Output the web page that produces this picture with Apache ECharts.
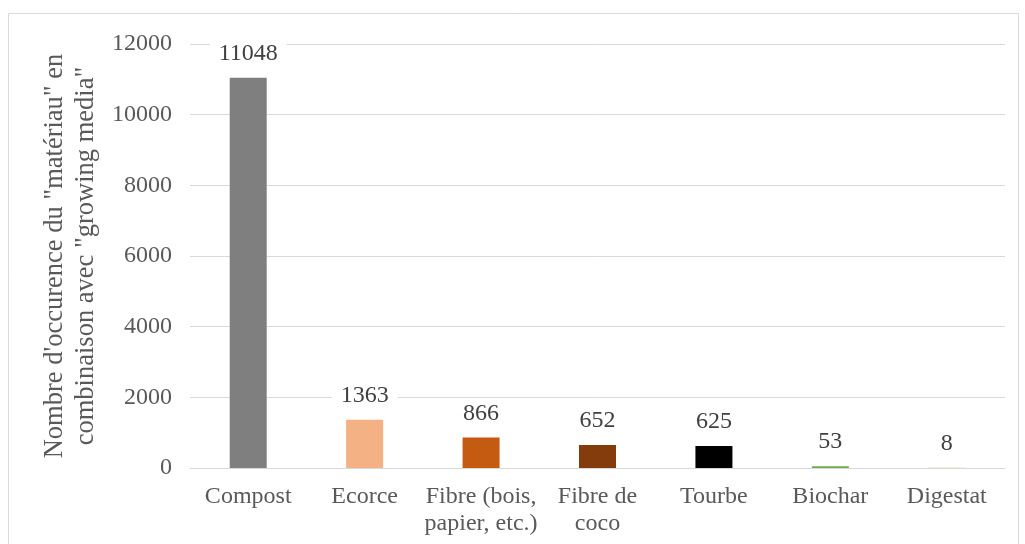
<!DOCTYPE html>
<html><head><meta charset="utf-8">
<script src="https://cdn.jsdelivr.net/npm/echarts@6/dist/echarts.min.js"></script>
<style>html,body{margin:0;padding:0;background:#fff}#c{width:1025px;height:544px}</style>
</head><body><div id="c"></div>
<script>
const categories = ['Compost','Ecorce','Fibre (bois,\npapier, etc.)','Fibre de\ncoco','Tourbe','Biochar','Digestat'];
const values = [11048,1363,866,652,625,53,8];
const colors = ['#7f7f7f','#f4b183','#c55a11','#843c0c','#000000','#70ad47','#a9d18e'];
const yTicks = {min:0,max:12000,interval:2000};
const yTitle = 'Nombre d\'occurence du "matériau" en\ncombinaison avec "growing media"';
const font = '"Liberation Serif", "Times New Roman", serif';
const chart = echarts.init(document.getElementById('c'));
chart.setOption({
  animation:false,
  textStyle:{fontFamily:font},
  graphic:[{type:'rect',shape:{x:8.5,y:13.5,width:1010,height:540},style:{fill:'none',stroke:'#d9d9d9',lineWidth:1},z:-1}],
  grid:{left:190,right:20,top:44,bottom:76},
  xAxis:{type:'category',data:categories,
    axisLine:{show:true,lineStyle:{color:'#d9d9d9',width:1}},axisTick:{show:false},
    axisLabel:{color:'#595959',fontSize:24,fontFamily:font,margin:15,lineHeight:27,interval:0}},
  yAxis:{type:'value',min:yTicks.min,max:yTicks.max,interval:yTicks.interval,
    name:yTitle,nameLocation:'middle',nameGap:75,nameRotate:90,
    nameTextStyle:{color:'#595959',fontSize:26.5,fontFamily:font,lineHeight:31,align:'center'},
    axisLine:{show:false},axisTick:{show:false},
    axisLabel:{color:'#595959',fontSize:24,fontFamily:font,margin:18,formatter:v=>String(v)},
    splitLine:{lineStyle:{color:'#d9d9d9',width:1}}},
  series:[{type:'bar',barWidth:37,
    data:values.map((v,i)=>({value:v,itemStyle:{color:colors[i]}})),
    label:{show:true,position:'top',distance:10,color:'#404040',fontSize:24,fontFamily:font,
      backgroundColor:'#fff',padding:[2,9]}}]
});
</script></body></html>
